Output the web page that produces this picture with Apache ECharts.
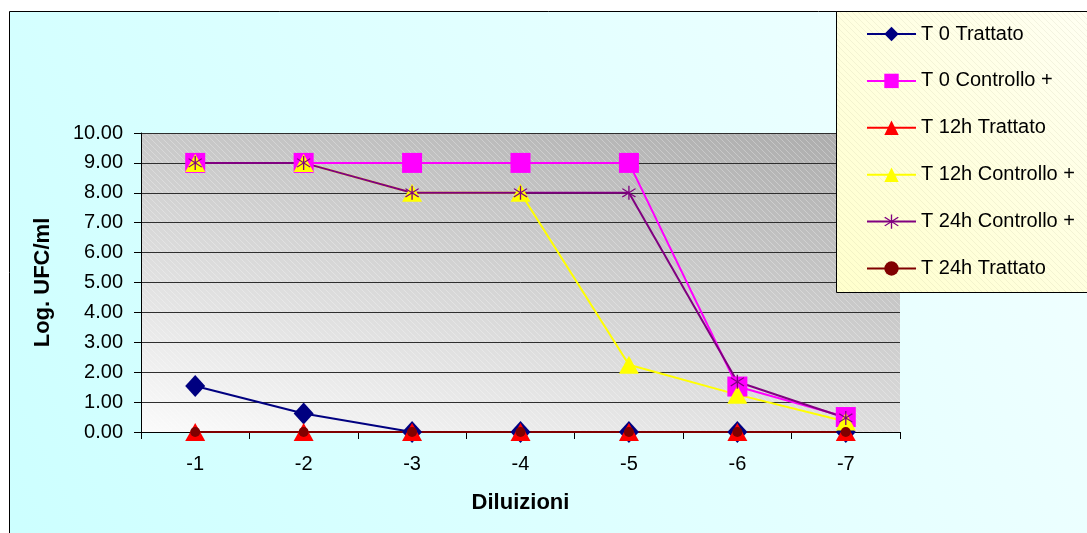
<!DOCTYPE html>
<html>
<head>
<meta charset="utf-8">
<script src="https://cdn.jsdelivr.net/npm/echarts@6/dist/echarts.min.js"></script>
<style>
html,body{margin:0;padding:0;background:#fff;}
#chart{width:1087px;height:533px;}
</style>
</head>
<body>
<div id="chart"></div>
<script>
// ---- data ----
const categories = ['-1', '-2', '-3', '-4', '-5', '-6', '-7'];
const t0Trattato = [1.54, 0.62, 0, 0, 0, 0, 0];
const t0Controllo = [9, 9, 9, 9, 9, 1.52, 0.5];
const t12Trattato = [0, 0, 0, 0, 0, 0, 0];
const t12Controllo = [9, 9, 8, 8, 2.25, 1.25, 0.35];
const t24Controllo = [9, 9, 8, 8, 8, 1.68, 0.47];
const t24Trattato = [0, 0, 0, 0, 0, 0, 0];
const seriesNames = ['T 0 Trattato', 'T 0 Controllo +', 'T 12h Trattato', 'T 12h Controllo +', 'T 24h Controllo +', 'T 24h Trattato'];
const yMin = 0, yMax = 10, yStep = 1;

// ---- styling helpers ----
function hatch(color) {
  const c = document.createElement('canvas');
  c.width = 6; c.height = 6;
  const ctx = c.getContext('2d');
  ctx.strokeStyle = color;
  ctx.lineWidth = 1;
  ctx.beginPath();
  ctx.moveTo(-1, -1); ctx.lineTo(7, 7);
  ctx.stroke();
  return c;
}
const FONT = '"Liberation Sans", Arial, sans-serif';
const starPath = 'path://M9.2 0H10.8V20H9.2Z M2.5 3.4L18.5 15.4L17.5 16.6L1.5 4.6Z M1.5 15.4L17.5 3.4L18.5 4.6L2.5 16.6Z';

const G = { left: 141, top: 133, width: 759, height: 299 };

const chart = echarts.init(document.getElementById('chart'), null, { renderer: 'canvas' });

function mk(name, data, color, symbol, size, lineWidth) {
  return {
    name, type: 'line', data,
    symbol, symbolSize: size,
    showAllSymbol: true,
    lineStyle: { color, width: lineWidth },
    itemStyle: { color, borderColor: color, borderWidth: 0 },
    emphasis: { disabled: true }
  };
}

const option = {
  animation: false,
  backgroundColor: '#ffffff',
  graphic: [
    { type: 'rect', z: -20, silent: true,
      shape: { x: 9.5, y: 11.5, width: 1100, height: 560 },
      style: { fill: new echarts.graphic.LinearGradient(1, 0, 0, 1, [
        { offset: 0, color: '#f4ffff' }, { offset: 1, color: '#ccffff' }]),
        stroke: '#000', lineWidth: 1 } },
    { type: 'rect', z: -15, silent: true,
      shape: { x: G.left, y: G.top, width: G.width, height: G.height },
      style: { fill: new echarts.graphic.LinearGradient(900, 133, 793, 586, [
        { offset: 0, color: '#aaaaaa' }, { offset: 1, color: '#fbfbfb' }], true) } },
    { type: 'rect', z: -14, silent: true,
      shape: { x: G.left, y: G.top, width: G.width, height: G.height },
      style: { fill: { image: hatch('rgba(255,255,255,0.28)'), repeat: 'repeat' } } },
    { type: 'rect', z: 50, silent: true,
      shape: { x: 836.5, y: 11.5, width: 300, height: 281 },
      style: { fill: new echarts.graphic.LinearGradient(0, 1, 1, 0, [
        { offset: 0, color: '#ffffcc' }, { offset: 1, color: '#fffff6' }]),
        stroke: '#000', lineWidth: 1 } },
    { type: 'rect', z: 51, silent: true,
      shape: { x: 837, y: 12, width: 300, height: 280 },
      style: { fill: { image: hatch('rgba(160,160,120,0.12)'), repeat: 'repeat' } } }
  ],
  legend: {
    z: 60,
    orient: 'vertical',
    left: 866, top: 24,
    padding: 0,
    itemWidth: 49, itemHeight: 18, itemGap: 26.9,
    data: seriesNames,
    textStyle: { fontFamily: FONT, fontSize: 20, color: '#000', lineHeight: 20 },
    selectedMode: false
  },
  grid: { left: G.left, top: G.top, width: G.width, height: G.height, containLabel: false },
  xAxis: {
    type: 'category', data: categories, boundaryGap: true,
    axisLine: { show: true, lineStyle: { color: '#000', width: 1 } },
    axisTick: { show: true, length: 7, lineStyle: { color: '#000' } },
    axisLabel: { fontFamily: FONT, fontSize: 20, color: '#000', margin: 22 },
    name: 'Diluizioni', nameLocation: 'middle', nameGap: 60,
    nameTextStyle: { fontFamily: FONT, fontSize: 22, fontWeight: 'bold', color: '#000' },
    splitLine: { show: false }
  },
  yAxis: {
    type: 'value', min: yMin, max: yMax, interval: yStep,
    axisLine: { show: true, lineStyle: { color: '#000', width: 1 } },
    axisTick: { show: true, length: 7, lineStyle: { color: '#000' } },
    axisLabel: { fontFamily: FONT, fontSize: 20, color: '#000', margin: 18,
      formatter: v => v.toFixed(2) },
    splitLine: { show: true, lineStyle: { color: '#2e2e2e', width: 1 } },
    name: 'Log. UFC/ml', nameLocation: 'middle', nameRotate: 90, nameGap: 87,
    nameTextStyle: { fontFamily: FONT, fontSize: 22, fontWeight: 'bold', color: '#000' }
  },
  series: [
    mk(seriesNames[0], t0Trattato, '#000080', 'diamond', [20, 22], 2),
    mk(seriesNames[1], t0Controllo, '#ff00ff', 'rect', 20, 2),
    mk(seriesNames[2], t12Trattato, '#ff0000', 'triangle', [20, 18], 2),
    mk(seriesNames[3], t12Controllo, '#ffff00', 'triangle', [20, 18], 2),
    mk(seriesNames[4], t24Controllo, '#800080', starPath, 14, 2),
    mk(seriesNames[5], t24Trattato, '#800000', 'circle', 10, 2)
  ]
};
chart.setOption(option);
</script>
</body>
</html>
